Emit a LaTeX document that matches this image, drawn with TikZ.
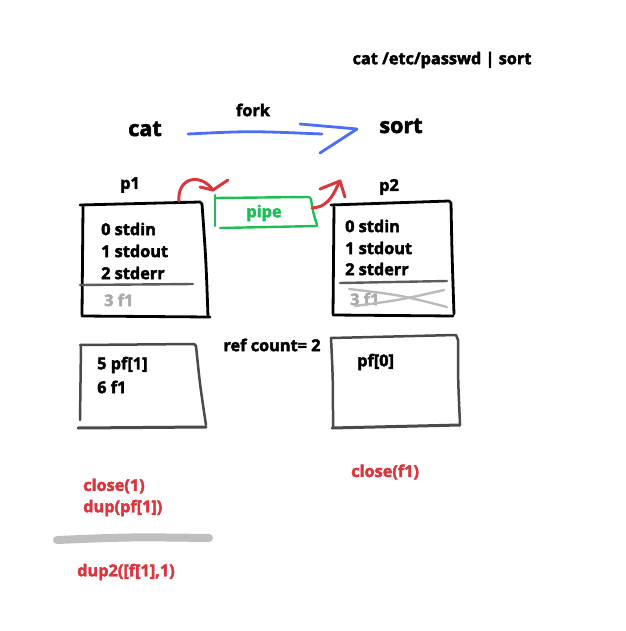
\documentclass[tikz,border=0pt]{standalone}
\usepackage{fontspec}
\setmainfont{Open Sans}[BoldFeatures={FakeBold=2.6}]
\definecolor{xblue}{HTML}{4C6EF5}
\definecolor{xred}{HTML}{D9363E}
\definecolor{xgreen}{HTML}{1DBF55}
\definecolor{xgray}{HTML}{AAAAAA}
\definecolor{xdark}{HTML}{4A4A4A}
\tikzset{
  lbl/.style={font=\fontsize{16.3}{18}\selectfont\bfseries, inner sep=0pt},
  big/.style={font=\fontsize{21.5}{23}\selectfont\bfseries, inner sep=0pt},
  fdl/.style={lbl, anchor=west},
  redtxt/.style={lbl, anchor=west, text=xred},
  sketch/.style={line width=2.8pt, line cap=round, line join=round},
  sketchg/.style={line width=2.5pt, line cap=round, line join=round, draw=xdark},
}
\begin{document}
\begin{tikzpicture}[x=1pt,y=-1pt]
\useasboundingbox (0,0) rectangle (625,631);
% title
\node[lbl] (title) at (442,60) {cat /etc/passwd | sort};
\node[lbl] (fork) at (253,110) {fork};
\node[big] (cat) at (145,129) {cat};
\node[big] (sort) at (401,126) {sort};
% blue fork arrow
\coordinate (fa) at (188,134);
\coordinate (fb) at (322,134);
\draw[xblue, sketch, line width=2.8pt] (fa) .. controls (250,131) .. (fb);
\draw[xblue, sketch, line width=2.8pt] (300,124) -- (357,129) -- (320,153);
% p1 box
\node[lbl] (p1) at (130,185) {p1};
\draw[sketch] (83,207) -- (82,315);
\draw[sketch] (80,205) .. controls (140,203) .. (200,202) -- (202,204) .. controls (206,260) .. (208,317);
\draw[sketch] (82,316) -- (210,317);
\node[fdl] (a0) at (101,229) {0 stdin};
\node[fdl] (a1) at (101,251) {1 stdout};
\node[fdl] (a2) at (101,273) {2 stderr};
\draw[line width=2.4pt, draw=xdark!90, line cap=round] (80,285) -- (193,284);
\node[fdl, text=xgray] (a3) at (104,300) {3 f1};
% pipe
\draw[xgreen, line width=2.4pt, line join=round, line cap=round] (215,195) -- (215,226);
\draw[xgreen, line width=2.4pt, line join=round, line cap=round] (215,198) -- (309,197) -- (311,199) .. controls (313,212) .. (317,225);
\draw[xgreen, line width=2.4pt, line cap=round] (220,228) -- (317,226);
\node[lbl, text=xgreen] (pipe) at (264,213) {pipe};
% red arrows
\coordinate (r1s) at (179,201);
\coordinate (r1e) at (213,190);
\draw[xred, sketch, line width=3pt] (r1s) .. controls (177,178) and (200,172) .. (r1e);
\draw[xred, sketch, line width=3pt] (200,187) -- (r1e) -- (228,180);
\coordinate (r2s) at (312,208);
\coordinate (r2e) at (340,181);
\draw[xred, sketch, line width=3pt] (r2s) .. controls (330,207) and (334,192) .. (r2e);
\draw[xred, sketch, line width=3pt] (320,189) -- (r2e) -- (345,197);
% p2 box
\node[lbl] (p2) at (389,187) {p2};
\draw[sketch] (334,207) -- (333,314);
\draw[sketch] (331,205) .. controls (390,203) .. (449,201) -- (451,203) .. controls (452,255) .. (454,314);
\draw[sketch] (333,315) -- (453,316);
\node[fdl] (b0) at (345,226) {0 stdin};
\node[fdl] (b1) at (345,248) {1 stdout};
\node[fdl] (b2) at (345,269) {2 stderr};
\draw[line width=2.4pt, draw=xdark!90, line cap=round] (340,283) -- (447,281);
\node[fdl, text=xgray] (b3) at (350,299) {3 f1};
\draw[xgray!80, line width=2.4pt, line cap=round] (349,289) .. controls (400,295) .. (447,307);
\draw[xgray!80, line width=2.4pt, line cap=round] (355,306) .. controls (400,300) .. (444,290);
% lower left box
\draw[sketchg] (81,345) -- (80,420);
\draw[sketchg] (80,345) -- (194,344) -- (196,346) .. controls (200,385) .. (206,425);
\draw[sketchg, line width=3pt] (78,428) -- (206,427);
\node[fdl] (c5) at (97,365) {5 pf[1]};
\node[fdl] (c6) at (97,387) {6 f1};
% ref count
\node[lbl] (ref) at (272,345) {ref count= 2};
% lower right box
\draw[sketchg] (331,338) .. controls (333,380) .. (333,428);
\draw[sketchg] (331,338) -- (456,335) -- (458,340) .. controls (458,380) .. (460,424);
\draw[sketchg, line width=3pt] (332,428) -- (460,425);
\node[fdl] (d0) at (357,362) {pf[0]};
% red commands
\node[redtxt] (cf1) at (351,472) {close(f1)};
\node[redtxt] (c1) at (83,486) {close(1)};
\node[redtxt] (dp) at (83,508) {dup(pf[1])};
\draw[xgray!75, line width=8pt, line cap=round] (57,540) .. controls (130,537) .. (209,538);
\node[redtxt] (d2) at (77,572) {dup2([f[1],1)};
\end{tikzpicture}
\end{document}
